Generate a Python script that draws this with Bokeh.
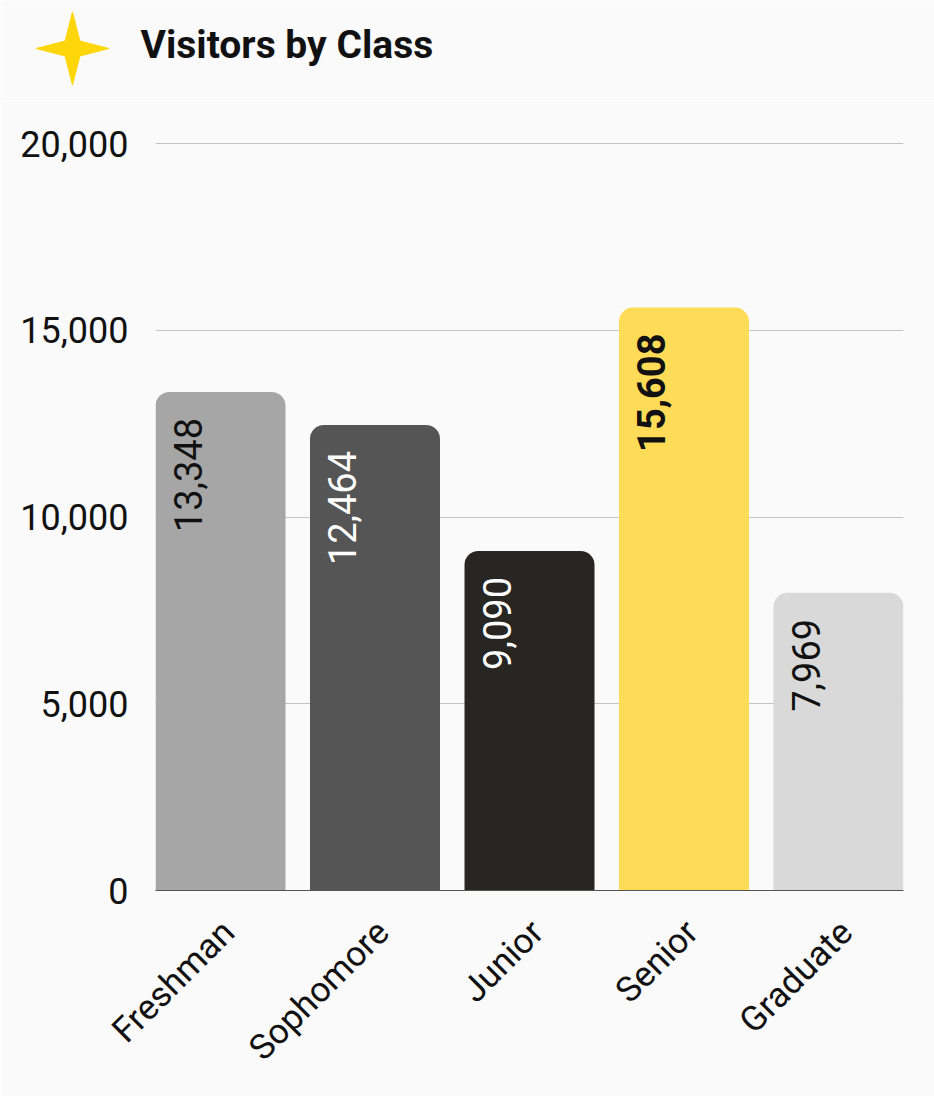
import math
from bokeh.plotting import figure
from bokeh.models import ColumnDataSource, Range1d, FixedTicker, NumeralTickFormatter, LinearAxis
from bokeh.layouts import column
from bokeh.core.properties import value
from bokeh.embed import file_html
from bokeh.resources import INLINE

# ---- data ----
categories = ["Freshman", "Sophomore", "Junior", "Senior", "Graduate"]
visitors = [13348, 12464, 9090, 15608, 7969]
bar_colors = ["#a6a6a6", "#555555", "#282622", "#ffdc58", "#d9d9d9"]
label_colors = ["#111111", "#ffffff", "#ffffff", "#111111", "#111111"]
label_styles = ["normal", "normal", "normal", "bold", "normal"]
y_ticks = [0, 5000, 10000, 15000, 20000]
title_text = "Visitors by Class"

BG = "#fafafa"
FONT = "Roboto"
W = 130 / 154.5          # bar width as fraction of category pitch
N = len(categories)

FIG_W = 934
HDR_H = 100
MAIN_H = 996
MB_L, MB_R, MB_T, MB_B = 155, 31, 42, 206
FRAME_H = MAIN_H - MB_T - MB_B
X0, X1 = -W / 2, N - 1 + W / 2
Y1 = 20000 * FRAME_H / (FRAME_H - 1)

# ---- header (star + title) ----
hdr = figure(width=FIG_W, height=HDR_H, output_backend="svg", toolbar_location=None,
             x_range=Range1d(0, FIG_W), y_range=Range1d(HDR_H, 0),
             min_border=0, outline_line_color=None, frame_align=False,
             x_axis_location=None, y_axis_location=None,
             background_fill_color=BG, border_fill_color=BG)
hdr.grid.visible = False

cx, cy, R, r = 72, 48, 36.5, 10.5
sx, sy = [], []
for k in range(8):
    ang = math.pi / 2 - k * math.pi / 4
    rad = R if k % 2 == 0 else r
    sx.append(cx + rad * math.cos(ang))
    sy.append(cy - rad * math.sin(ang))
hdr.patch(sx, sy, fill_color="#ffd60a", line_color="#ffd60a", line_width=1)
hdr.text(x=[140], y=[44], text=[title_text], text_font=value(FONT),
         text_font_size="39px", text_font_style="bold", text_color="#111111",
         text_baseline="alphabetic", text_align="left")

# ---- main chart ----
xs = list(range(N))
src = ColumnDataSource(dict(
    x=xs, top=visitors, color=bar_colors,
    label=[f"{v:,}" for v in visitors],
    lcolor=label_colors, lstyle=label_styles,
))

p = figure(width=FIG_W, height=MAIN_H, output_backend="svg", toolbar_location=None,
           x_range=Range1d(X0, X1), y_range=Range1d(0, Y1),
           x_axis_location=None, frame_align=False,
           min_border_left=MB_L, min_border_right=MB_R,
           min_border_top=MB_T, min_border_bottom=MB_B,
           outline_line_color=None,
           background_fill_color=BG, border_fill_color=BG)

p.vbar(x="x", top="top", bottom=0, width=W, source=src,
       fill_color="color", line_color=None, border_radius=(14, 14, 0, 0))

p.text(x="x", y="top", text="label", source=src, angle=math.pi / 2,
       text_align="right", text_baseline="middle",
       x_offset=-33, y_offset=26,
       text_font=value(FONT), text_font_size="38px",
       text_color="lcolor", text_font_style="lstyle")

p.xgrid.visible = False
p.ygrid.grid_line_color = "#c4c4c4"
p.ygrid.grid_line_width = 1
p.yaxis.ticker = FixedTicker(ticks=y_ticks)
p.yaxis.formatter = NumeralTickFormatter(format="0,0")
p.yaxis.axis_line_color = None
p.yaxis.major_tick_line_color = None
p.yaxis.minor_tick_line_color = None
p.yaxis.major_label_standoff = 21
p.yaxis.major_label_text_font = FONT
p.yaxis.major_label_text_font_size = "36px"
p.yaxis.major_label_text_color = "#111111"

shift = 8 / 154.5
p.extra_x_ranges = {"lab": Range1d(X0 - shift, X1 - shift)}
xax = LinearAxis(x_range_name="lab", ticker=FixedTicker(ticks=xs),
                 major_label_overrides={i: c for i, c in zip(xs, categories)},
                 major_label_orientation=math.pi / 4,
                 axis_line_color="#555555", axis_line_width=1,
                 major_tick_line_color=None, minor_tick_line_color=None,
                 major_label_standoff=30,
                 major_label_text_font=FONT, major_label_text_font_size="35px",
                 major_label_text_color="#111111")
p.add_layout(xax, "below")

layout = column(hdr, p, spacing=0)
open("out.html", "w").write(file_html(layout, INLINE))
